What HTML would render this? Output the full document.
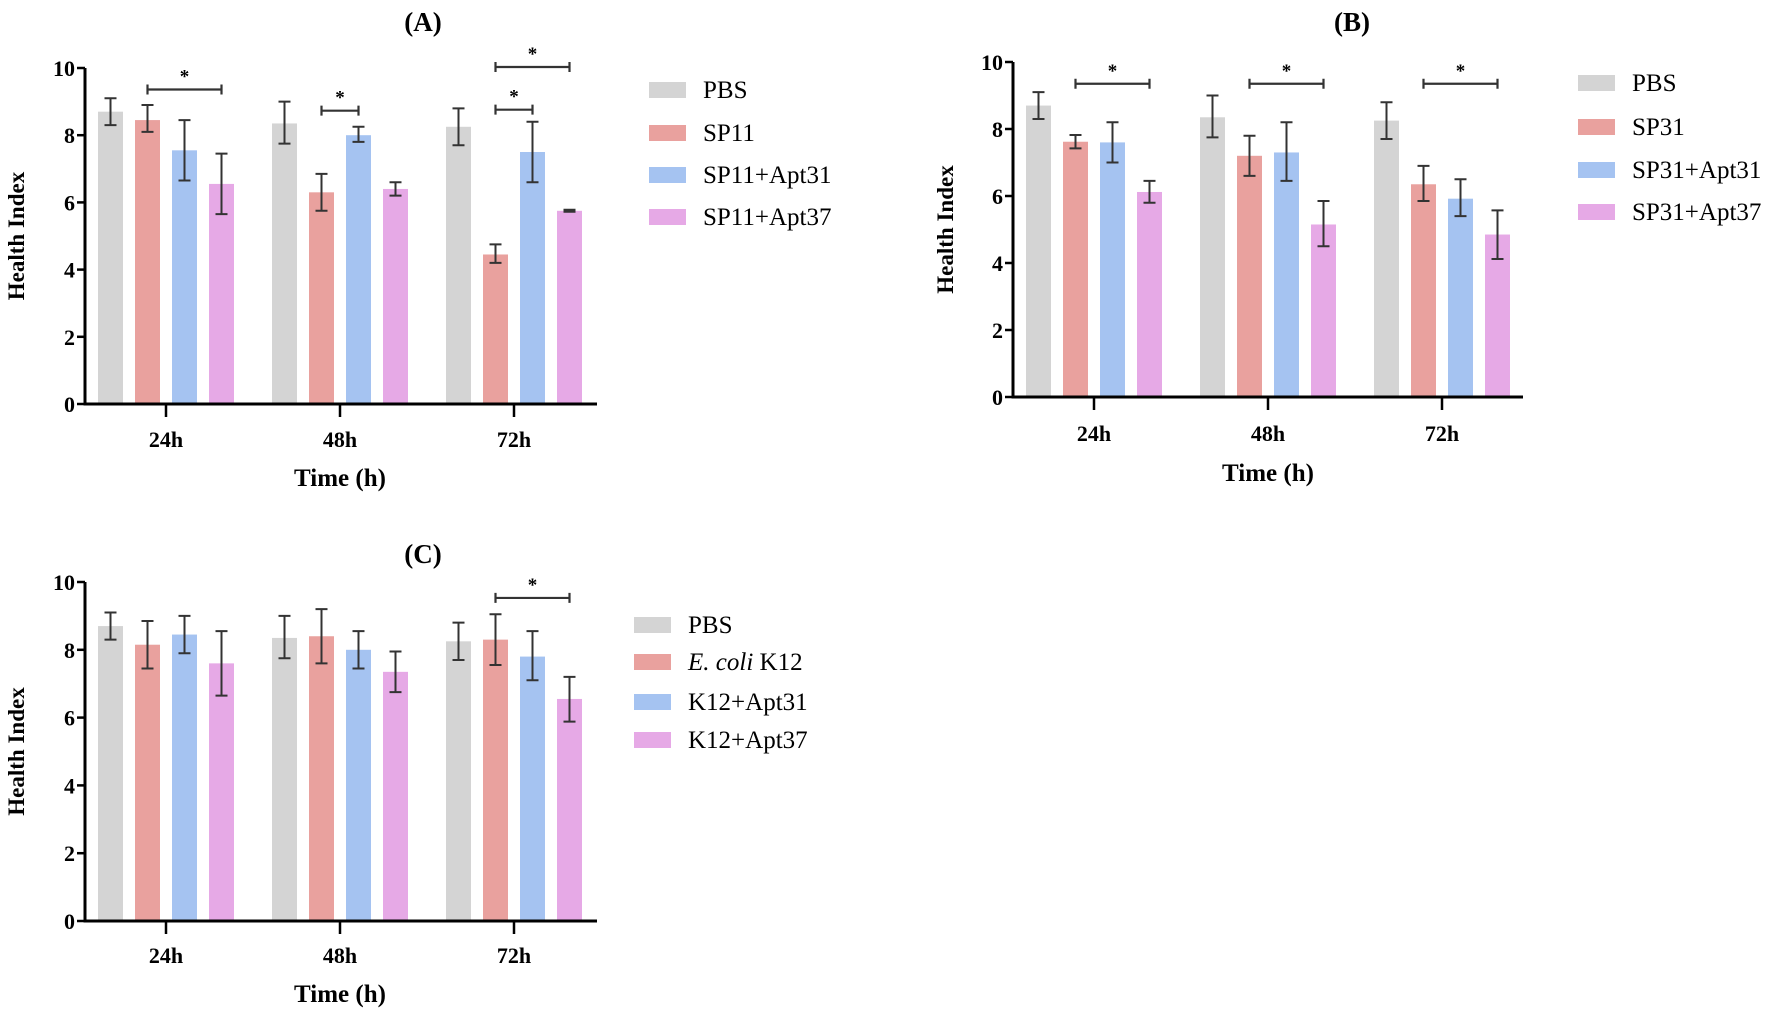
<!DOCTYPE html>
<html><head><meta charset="utf-8">
<style>
html,body{margin:0;padding:0;background:#fff;overflow:hidden;}
svg{display:block;font-family:"Liberation Serif",serif;}
</style></head>
<body>
<svg id="chart" width="1772" height="1011" viewBox="0 0 1772 1011" xmlns="http://www.w3.org/2000/svg"></svg>
<script>
const categories = ["24h","48h","72h"];
const yTicks = [0,2,4,6,8,10];
const colors = ["#d4d4d4","#e9a19e","#a5c3f1","#e6a9e6"];

const seriesA = ["PBS","SP11","SP11+Apt31","SP11+Apt37"];
const valuesA = [[8.7,8.35,8.25],[8.45,6.3,4.45],[7.55,8.0,7.5],[6.55,6.4,5.75]];
const errLoA = [[8.3,7.75,7.7],[8.1,5.75,4.2],[6.65,7.8,6.6],[5.65,6.2,5.72]];
const errHiA = [[9.1,9.0,8.8],[8.9,6.85,4.75],[8.45,8.25,8.4],[7.45,6.6,5.78]];
const sigA = [[0,1,3,9.36],[1,1,2,8.73],[2,1,3,10.03],[2,1,2,8.76]];

const seriesB = ["PBS","SP31","SP31+Apt31","SP31+Apt37"];
const valuesB = [[8.7,8.35,8.25],[7.62,7.2,6.35],[7.6,7.3,5.92],[6.12,5.15,4.85]];
const errLoB = [[8.3,7.75,7.7],[7.42,6.6,5.85],[7.0,6.45,5.4],[5.8,4.5,4.12]];
const errHiB = [[9.1,9.0,8.8],[7.82,7.8,6.9],[8.2,8.2,6.5],[6.45,5.85,5.57]];
const sigB = [[0,1,3,9.35],[1,1,3,9.35],[2,1,3,9.35]];

const seriesC = ["PBS","E. coli K12","K12+Apt31","K12+Apt37"];
const valuesC = [[8.7,8.35,8.25],[8.15,8.4,8.3],[8.45,8.0,7.8],[7.6,7.35,6.55]];
const errLoC = [[8.3,7.75,7.7],[7.45,7.6,7.55],[7.9,7.45,7.1],[6.65,6.75,5.88]];
const errHiC = [[9.1,9.0,8.8],[8.85,9.2,9.05],[9.0,8.55,8.55],[8.55,7.95,7.2]];
const sigC = [[2,1,3,9.53]];

const NS="http://www.w3.org/2000/svg";
const svg=document.getElementById('chart');
function mk(tag,attrs,parent){const e=document.createElementNS(NS,tag);for(const k in attrs)e.setAttribute(k,attrs[k]);(parent||svg).appendChild(e);return e;}

function panel(cfg){
  const g=mk('g',{});
  
  
  const x0=cfg.axisX, xEnd=cfg.axisEnd, yTop=cfg.yTop, yBot=cfg.yBot;
  const yScale=v=>yBot-(v/10)*(yBot-yTop);
  const xCat=i=>cfg.cat0+i*cfg.catStep;
  const barX=(i,s)=>xCat(i)+(s-1.5)*37;
  const t=mk('text',{x:cfg.titleX,y:cfg.titleY,'font-size':27,'font-weight':'bold','text-anchor':'middle'},g);
  t.textContent='('+cfg.id+')';
  
  
  cfg.values.forEach((ser,s)=>{ser.forEach((v,i)=>{
    const cx=barX(i,s);
    const r=mk('rect',{x:cx-12.5,y:yScale(v),width:25,height:yBot-yScale(v),fill:colors[s]},g);
    
    
    const lo=yScale(cfg.lo[s][i]), hi=yScale(cfg.hi[s][i]);
    const eb=mk('path',{d:`M${cx},${lo}V${hi}M${cx-6},${lo}H${cx+6}M${cx-6},${hi}H${cx+6}`,stroke:'#333',"stroke-width":2,fill:'none'},g);
    
    
  });});
  const ax=mk('path',{d:`M${x0},${yTop}V${yBot}H${xEnd}`,stroke:'#000','stroke-width':3,fill:'none'},g);
  
  
  yTicks.forEach(v=>{
    const y=yScale(v);
    mk('line',{x1:x0-8,x2:x0,y1:y,y2:y,stroke:'#000','stroke-width':2.5},g);
    const tl=mk('text',{x:x0-10,y:y+8,'font-size':22,'font-weight':'bold','text-anchor':'end'},g);
    tl.textContent=v;
    
    
  });
  categories.forEach((c,i)=>{
    const x=xCat(i);
    mk('line',{x1:x,x2:x,y1:yBot,y2:yBot+13,stroke:'#000','stroke-width':2.5},g);
    const tl=mk('text',{x:x,y:cfg.xLabY,'font-size':22,'font-weight':'bold','text-anchor':'middle'},g);
    tl.textContent=c;
    
    
  });
  const xt=mk('text',{x:xCat(1),y:cfg.xTitleY,'font-size':25,'font-weight':'bold','text-anchor':'middle'},g);
  xt.textContent='Time (h)';
  
  
  const yc=(yTop+yBot)/2;
  const yt=mk('text',{x:cfg.yTitleX,y:yc,'font-size':23,'font-weight':'bold','text-anchor':'middle',transform:`rotate(-90 ${cfg.yTitleX} ${yc})`},g);
  yt.textContent='Health Index';
  
  
  cfg.sig.forEach(sg=>{
    const [i,a,b,v]=sg; const y=yScale(v), xa=barX(i,a), xb=barX(i,b);
    const p=mk('path',{d:`M${xa},${y}H${xb}M${xa},${y-5}V${y+5}M${xb},${y-5}V${y+5}`,stroke:'#333','stroke-width':2.2,fill:'none'},g);
    
    
    const st=mk('text',{x:(xa+xb)/2,y:y-7,'font-size':19,'font-weight':'bold','text-anchor':'middle'},g);
    st.textContent='*';
    
    
  });
  cfg.series.forEach((s,k)=>{
    const y=cfg.legY[k];
    const lg=mk('g',{},g);
    
    
    mk('rect',{x:cfg.legX,y:y-8,width:37,height:16,fill:colors[k]},lg);
    const tx=mk('text',{x:cfg.legX+54,y:y+8,'font-size':25},lg);
    if(s.startsWith('E. coli')){
      const it=mk('tspan',{'font-style':'italic'},tx); it.textContent='E. coli';
      const rs=mk('tspan',{},tx); rs.textContent=' K12';
    } else tx.textContent=s;
  });
}

panel({id:'A',series:seriesA,values:valuesA,lo:errLoA,hi:errHiA,sig:sigA,
  axisX:85,axisEnd:597,yTop:68,yBot:404,cat0:166,catStep:174,
  titleX:423,titleY:31,xLabY:447,xTitleY:486,yTitleX:24,
  legX:649,legY:[90,133,175,217]});
panel({id:'B',series:seriesB,values:valuesB,lo:errLoB,hi:errHiB,sig:sigB,
  axisX:1013,axisEnd:1523,yTop:62,yBot:397,cat0:1094,catStep:174,
  titleX:1352,titleY:31,xLabY:441,xTitleY:481,yTitleX:953,
  legX:1578,legY:[83,127,170,212]});
panel({id:'C',series:seriesC,values:valuesC,lo:errLoC,hi:errHiC,sig:sigC,
  axisX:85,axisEnd:597,yTop:582,yBot:921,cat0:166,catStep:174,
  titleX:423,titleY:563,xLabY:963,xTitleY:1002,yTitleX:24,
  legX:634,legY:[625,662,702,740]});
</script>
</body></html>
